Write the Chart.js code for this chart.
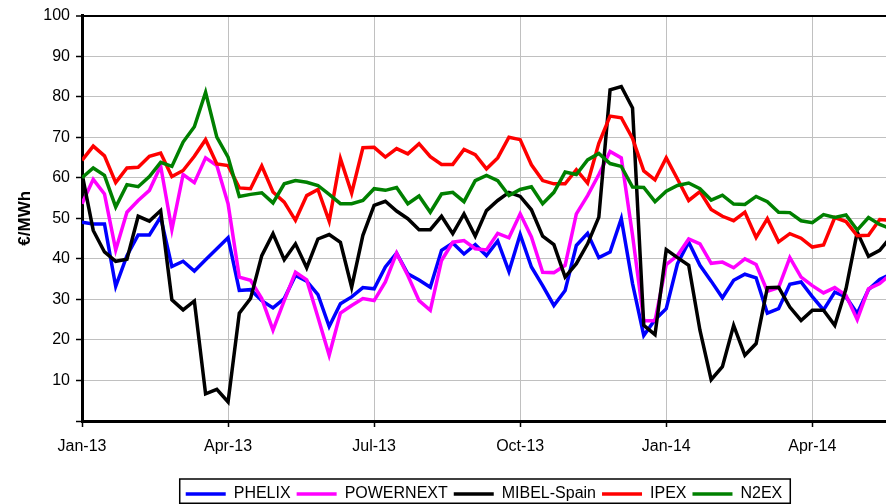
<!DOCTYPE html>
<html>
<head>
<meta charset="utf-8">
<script src="https://cdn.jsdelivr.net/npm/chart.js@4.4.1/dist/chart.umd.min.js"></script>
<style>
  body { margin: 0; background: #fff; }
  #wrap { width: 886px; height: 504px; }
</style>
</head>
<body>
<div id="wrap"><canvas id="chart"></canvas></div>
<script>
// weekly prices, week 0 = first week of Jan-13
const quarterWeeks = [0, 13, 26, 39, 52, 65];
const quarterLabels = ['Jan-13', 'Apr-13', 'Jul-13', 'Oct-13', 'Jan-14', 'Apr-14'];

const phelix = [49, 48.6, 48.6, 33.2, 40.8, 45.9, 45.9, 50.3, 38.1, 39.4, 37, 39.8, 42.5, 45.2, 32.2, 32.4,
  29.7, 27.9, 30.2, 35.9, 34.5, 31.2, 23.3, 28.9, 30.6, 32.9, 32.6, 38, 41.4, 36.3, 34.8, 33, 42.1, 43.9,
  41.2, 43.5, 40.8, 44.4, 36.9, 46, 38, 33.4, 28.5, 32.2, 43.3, 46.3, 40.3, 41.7, 49.9, 33.9, 21.1, 25,
  27.7, 38.8, 44.1, 38.4, 34.5, 30.4, 34.7, 36.2, 35.3, 26.6, 27.7, 33.7, 34.3, 30.7, 27.4, 31.8, 30.6,
  26.5, 32.4, 34.9, 36.3];
const powernext = [53.6, 59.6, 56, 42.2, 51.5, 54.4, 56.9, 62.9, 47.2, 60.8, 58.8, 64.9, 63, 53.6, 35.5, 34.7,
  30.2, 22.4, 29.7, 36.7, 34.8, 25.6, 16.2, 26.6, 28.5, 30.2, 29.7, 34.3, 41.4, 35.9, 29.7, 27.3, 39.6, 44.1,
  44.5, 42.5, 42.2, 46.3, 45.2, 51.1, 45.4, 36.7, 36.6, 38.4, 51.1, 55.6, 60.8, 66.5, 64.9, 45.8, 24.7, 24.7,
  38.6, 40.8, 44.9, 43.7, 38.9, 39.2, 37.8, 40, 38.6, 32, 32.9, 40.3, 35.5, 33.4, 31.6, 32.9, 31, 25, 32.6,
  33.9, 36.2];
const mibel = [61, 47, 41.7, 39.4, 39.9, 50.5, 49.3, 51.9, 29.9, 27.4, 29.6, 6.7, 7.8, 4.7, 26.6, 30.2,
  40.8, 46.2, 39.8, 43.7, 37.8, 44.9, 46, 44.1, 33, 45.8, 53.2, 54.2, 51.8, 49.9, 47.2, 47.2, 50.5, 46.2,
  51.1, 45.6, 51.9, 54.4, 56.4, 55.4, 52.1, 45.6, 43.5, 35.5, 38.8, 43.7, 50.3, 81.7, 82.5, 77.2, 23.6, 21.3,
  42.3, 40.3, 38.4, 22.4, 10.2, 13.4, 23.6, 16.2, 19.1, 32.9, 33, 28.1, 24.8, 27.3, 27.3, 23.6, 32.6, 46.6,
  40.6, 42.1, 45.4];
const ipex = [64.3, 67.8, 65.4, 58.8, 62.4, 62.6, 65.3, 66.1, 60.3, 61.8, 65.3, 69.4, 63.4, 63, 57.5, 57.3,
  62.9, 56.5, 54, 49.5, 55.6, 57.1, 49.3, 64.7, 56.2, 67.4, 67.5, 65.1, 67.2, 65.9, 68.4, 65.2, 63.3, 63.3,
  67, 65.7, 62.2, 64.9, 70, 69.4, 63.2, 59.3, 58.5, 58.5, 62, 58.7, 68.5, 75.2, 74.8, 69.7, 61.7, 59.5,
  64.9, 59.7, 54.4, 56.6, 52.2, 50.5, 49.4, 51.5, 45.3, 49.9, 44.2, 46.2, 45.1, 42.9, 43.4, 50.2, 49.2,
  45.7, 45.8, 49.7, 49.5];
const n2ex = [60, 62.4, 60.6, 52.8, 58.3, 57.8, 60.3, 63.8, 62.8, 68.8, 72.6, 81.1, 70, 65.1, 55.4, 55.9,
  56.3, 53.8, 58.5, 59.3, 58.9, 58.1, 55.9, 53.6, 53.6, 54.4, 57.3, 56.9, 57.6, 53.6, 55.5, 51.5, 56, 56.4,
  54.1, 59.3, 60.6, 59.3, 55.6, 57.1, 57.8, 53.6, 56.4, 61.4, 60.8, 64.4, 66, 63.5, 62.8, 57.7, 57.6, 54.1,
  56.7, 58.1, 58.7, 57.3, 54.5, 55.7, 53.5, 53.4, 55.4, 54.1, 51.5, 51.4, 49.4, 48.9, 50.9, 50.2, 50.8,
  47.1, 50.2, 48.5, 47.4];

const seriesNames = ['PHELIX', 'POWERNEXT', 'MIBEL-Spain', 'IPEX', 'N2EX'];
const seriesValues = [phelix, powernext, mibel, ipex, n2ex];
const seriesColors = ['#0000ff', '#ff00ff', '#000000', '#ff0000', '#008000'];

Chart.defaults.font.family = 'Arial, "Liberation Sans", sans-serif';
Chart.defaults.color = '#000';

// box round the legend, like the excel one
const legendFrame = {
  id: 'legendFrame',
  afterDraw(chart) {
    const boxes = chart.legend && chart.legend.legendHitBoxes;
    if (!boxes || !boxes.length) return;
    const last = boxes[boxes.length - 1];
    const left = boxes[0].left - 6;
    const right = last.left + last.width + 8;
    const top = chart.legend.top - 1;
    const ctx = chart.ctx;
    ctx.save();
    ctx.strokeStyle = '#000';
    ctx.lineWidth = 1.5;
    ctx.strokeRect(left, top, right - left, chart.height - top - 0.75);
    ctx.restore();
  }
};

const datasets = seriesNames.map((name, i) => ({
  label: name,
  data: seriesValues[i].map((v, w) => ({ x: w, y: v })),
  borderColor: seriesColors[i],
  backgroundColor: seriesColors[i],
  borderWidth: 3.5,
  pointRadius: 0,
  tension: 0,
  fill: false,
  order: seriesNames.length - i
}));

new Chart(document.getElementById('chart'), {
  type: 'line',
  data: { datasets },
  options: {
    responsive: true,
    maintainAspectRatio: false,
    animation: false,
    layout: { padding: { top: 14, left: 0, right: 0, bottom: 0 } },
    plugins: {
      tooltip: { enabled: false },
      legend: {
        position: 'bottom',
        fullSize: false,
        maxHeight: 24,
        labels: {
          usePointStyle: true,
          pointStyle: 'line',
          pointStyleWidth: 40,
          padding: 6,
          font: { size: 16 },
          sort: (a, b) => a.datasetIndex - b.datasetIndex
        }
      }
    },
    scales: {
      x: {
        type: 'linear',
        min: 0,
        max: 71.56,
        afterBuildTicks: (axis) => { axis.ticks = quarterWeeks.map(v => ({ value: v })); },
        afterFit: (axis) => { axis.height = 59; },
        ticks: {
          autoSkip: false,
          maxRotation: 0,
          padding: 10,
          font: { size: 16 },
          callback: (v) => quarterLabels[quarterWeeks.indexOf(v)] || ''
        },
        grid: { color: '#c0c0c0', lineWidth: 1, tickColor: '#000', tickLength: 6, tickWidth: 1.5 },
        border: { color: '#000', width: 3 }
      },
      y: {
        min: 0,
        max: 100,
        afterFit: (axis) => { axis.width = 82; },
        ticks: {
          stepSize: 10,
          padding: 6,
          font: { size: 16 },
          callback: (v) => (v === 0 ? '' : v)
        },
        grid: {
          color: (c) => (c.tick && c.tick.value === 100 ? '#000' : '#c0c0c0'),
          lineWidth: (c) => (c.tick && c.tick.value === 100 ? 2 : 1),
          tickColor: '#000',
          tickLength: 6,
          tickWidth: 1.5
        },
        border: { color: '#000', width: 3 },
        title: {
          display: true,
          text: '€/MWh',
          font: { size: 17, weight: 'bold' },
          padding: { top: 15, bottom: 0 }
        }
      }
    }
  },
  plugins: [legendFrame]
});
</script>
</body>
</html>
